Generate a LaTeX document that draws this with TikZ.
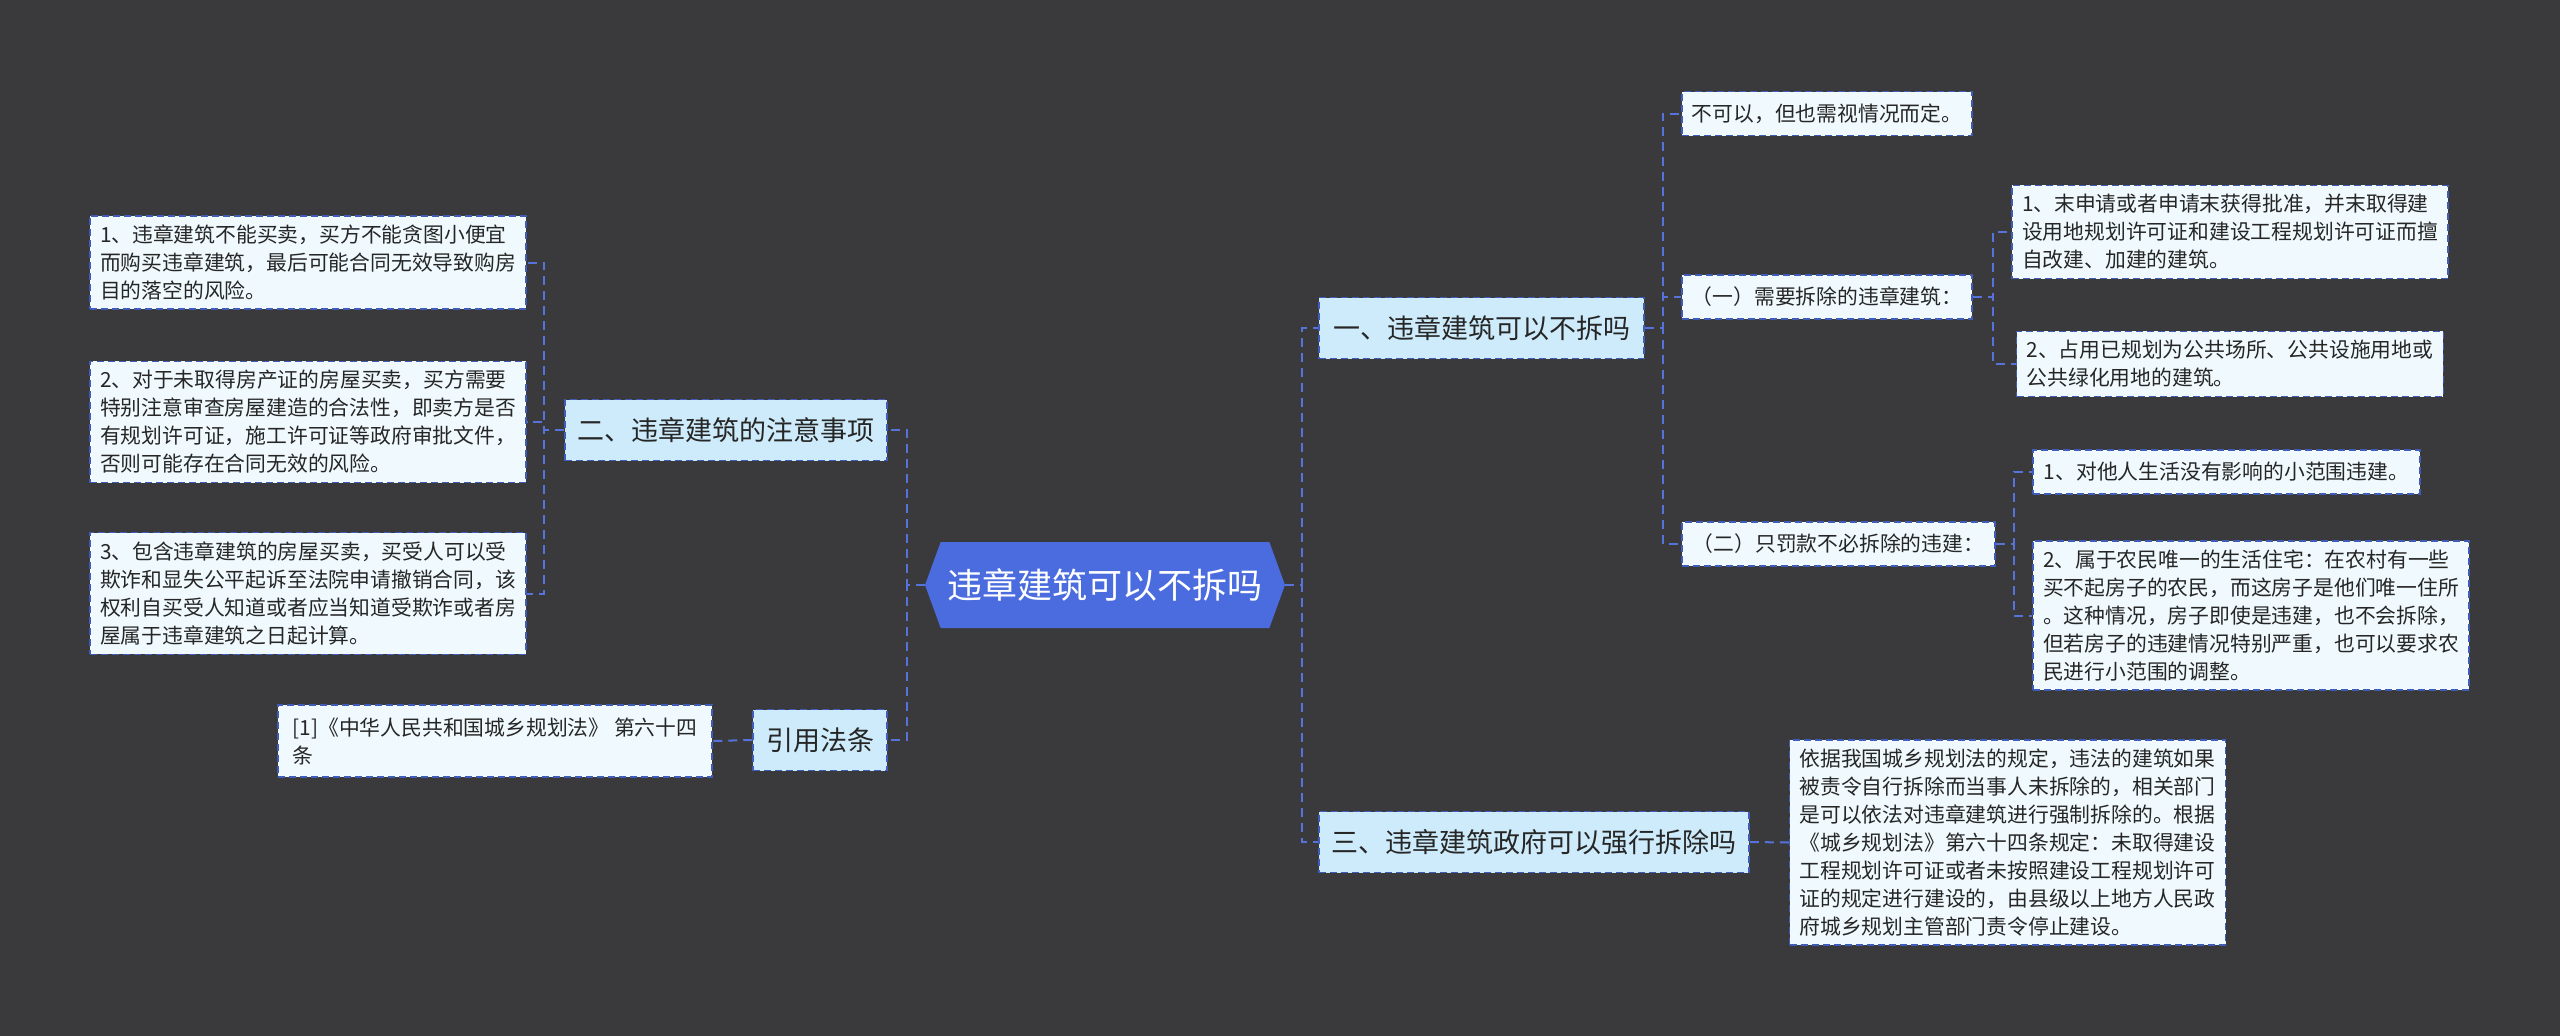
\documentclass[tikz,border=0pt]{standalone}
\usepackage{fontspec}
\newfontfamily\cjk{Noto Sans CJK SC}
\usepackage{tikz}
\usetikzlibrary{shapes,positioning,calc}

\definecolor{bgdark}{HTML}{3A393C}
\definecolor{rootblue}{HTML}{4A6CDE}
\definecolor{linkblue}{HTML}{5573DA}
\definecolor{topicfill}{HTML}{CDEBFA}
\definecolor{leaffill}{HTML}{F0FAFE}
\definecolor{edgeblue}{HTML}{3F5CB8}

\begin{document}
\begin{tikzpicture}[x=1pt, y=-1pt,
    root/.style={signal, signal to=west and east, signal pointer angle=140, fill=rootblue, text=white, minimum width=360pt, minimum height=86pt, inner xsep=4pt, font=\cjk\fontsize{35}{40}\selectfont},
    topic/.style={draw=edgeblue, dash pattern=on 7pt off 4pt, line width=1.5pt, fill=topicfill, text=black!85, minimum height=61pt, font=\cjk\fontsize{27}{32}\selectfont},
    leaf/.style={draw=edgeblue, dash pattern=on 7pt off 4pt, line width=1.5pt, fill=leaffill, text=black!85, align=left, inner xsep=10pt, inner ysep=9pt, minimum height=44pt, font=\cjk\fontsize{20.8}{28}\selectfont},
    link/.style={linkblue, dash pattern=on 9pt off 6pt, line width=2pt}
]

% Background
\fill[bgdark] (0,0) rectangle (2560,1036);
\useasboundingbox (0,0) rectangle (2560,1036);

% Root
\node[root] (root) at (1105,585) {违章建筑可以不拆吗};

% Topics
\node[topic, minimum width=325pt] (q1) at (1481.5,328) {一、违章建筑可以不拆吗};
\node[topic, minimum width=430pt] (q3) at (1534,842) {三、违章建筑政府可以强行拆除吗};
\node[topic, minimum width=322pt] (q2) at (726,430) {二、违章建筑的注意事项};
\node[topic, minimum width=134pt] (law) at (820,740) {引用法条};

% Right side leaves
\node[leaf, minimum width=290pt] (ans) at (1827,113.5) {不可以，但也需视情况而定。};
\node[leaf, minimum width=290pt] (must) at (1827,297) {（一）需要拆除的违章建筑：};
\node[leaf, minimum width=313pt] (fine) at (1838.5,544) {（二）只罚款不必拆除的违建：};
\node[leaf] (must1) at (2230,232) {1、末申请或者申请末获得批准，并末取得建\\设用地规划许可证和建设工程规划许可证而擅\\自改建、加建的建筑。};
\node[leaf] (must2) at (2230,364) {2、占用已规划为公共场所、公共设施用地或\\公共绿化用地的建筑。};
\node[leaf, minimum width=387pt] (fine1) at (2226.5,472) {1、对他人生活没有影响的小范围违建。};
\node[leaf] (fine2) at (2251,615.5) {2、属于农民唯一的生活住宅：在农村有一些\\买不起房子的农民，而这房子是他们唯一住所\\。这种情况，房子即使是违建，也不会拆除，\\但若房子的违建情况特别严重，也可以要求农\\民进行小范围的调整。};
\node[leaf] (force) at (2007.5,842.5) {依据我国城乡规划法的规定，违法的建筑如果\\被责令自行拆除而当事人未拆除的，相关部门\\是可以依法对违章建筑进行强制拆除的。根据\\《城乡规划法》第六十四条规定：未取得建设\\工程规划许可证或者未按照建设工程规划许可\\证的规定进行建设的，由县级以上地方人民政\\府城乡规划主管部门责令停止建设。};

% Left side leaves
\node[leaf] (tip1) at (308,262.5) {1、违章建筑不能买卖，买方不能贪图小便宜\\而购买违章建筑，最后可能合同无效导致购房\\目的落空的风险。};
\node[leaf] (tip2) at (308,422) {2、对于未取得房产证的房屋买卖，买方需要\\特别注意审查房屋建造的合法性，即卖方是否\\有规划许可证，施工许可证等政府审批文件，\\否则可能存在合同无效的风险。};
\node[leaf] (tip3) at (308,593.5) {3、包含违章建筑的房屋买卖，买受人可以受\\欺诈和显失公平起诉至法院申请撤销合同，该\\权利自买受人知道或者应当知道受欺诈或者房\\屋属于违章建筑之日起计算。};
\node[leaf, minimum width=434pt, minimum height=72pt] (art) at (495,741) {[1]《中华人民共和国城乡规划法》 第六十四\\条};

% Connectors
\foreach \t in {q1,q3}
  \draw[link] (root.east) -- ++(17,0) |- (\t.west);
\foreach \t in {q2,law}
  \draw[link] (root.west) -- ++(-18,0) |- (\t.east);
\foreach \t in {ans,must,fine}
  \draw[link] (q1.east) -- ++(18,0) |- (\t.west);
\foreach \t in {must1,must2}
  \draw[link] (must.east) -- ++(20,0) |- (\t.west);
\foreach \t in {fine1,fine2}
  \draw[link] (fine.east) -- ++(18,0) |- (\t.west);
\foreach \t in {tip1,tip2,tip3}
  \draw[link] (q2.west) -- ++(-20,0) |- (\t.east);
\draw[link] (q3.east) -- (force.west);
\draw[link] (law.west) -- (art.east);

\end{tikzpicture}
\end{document}
